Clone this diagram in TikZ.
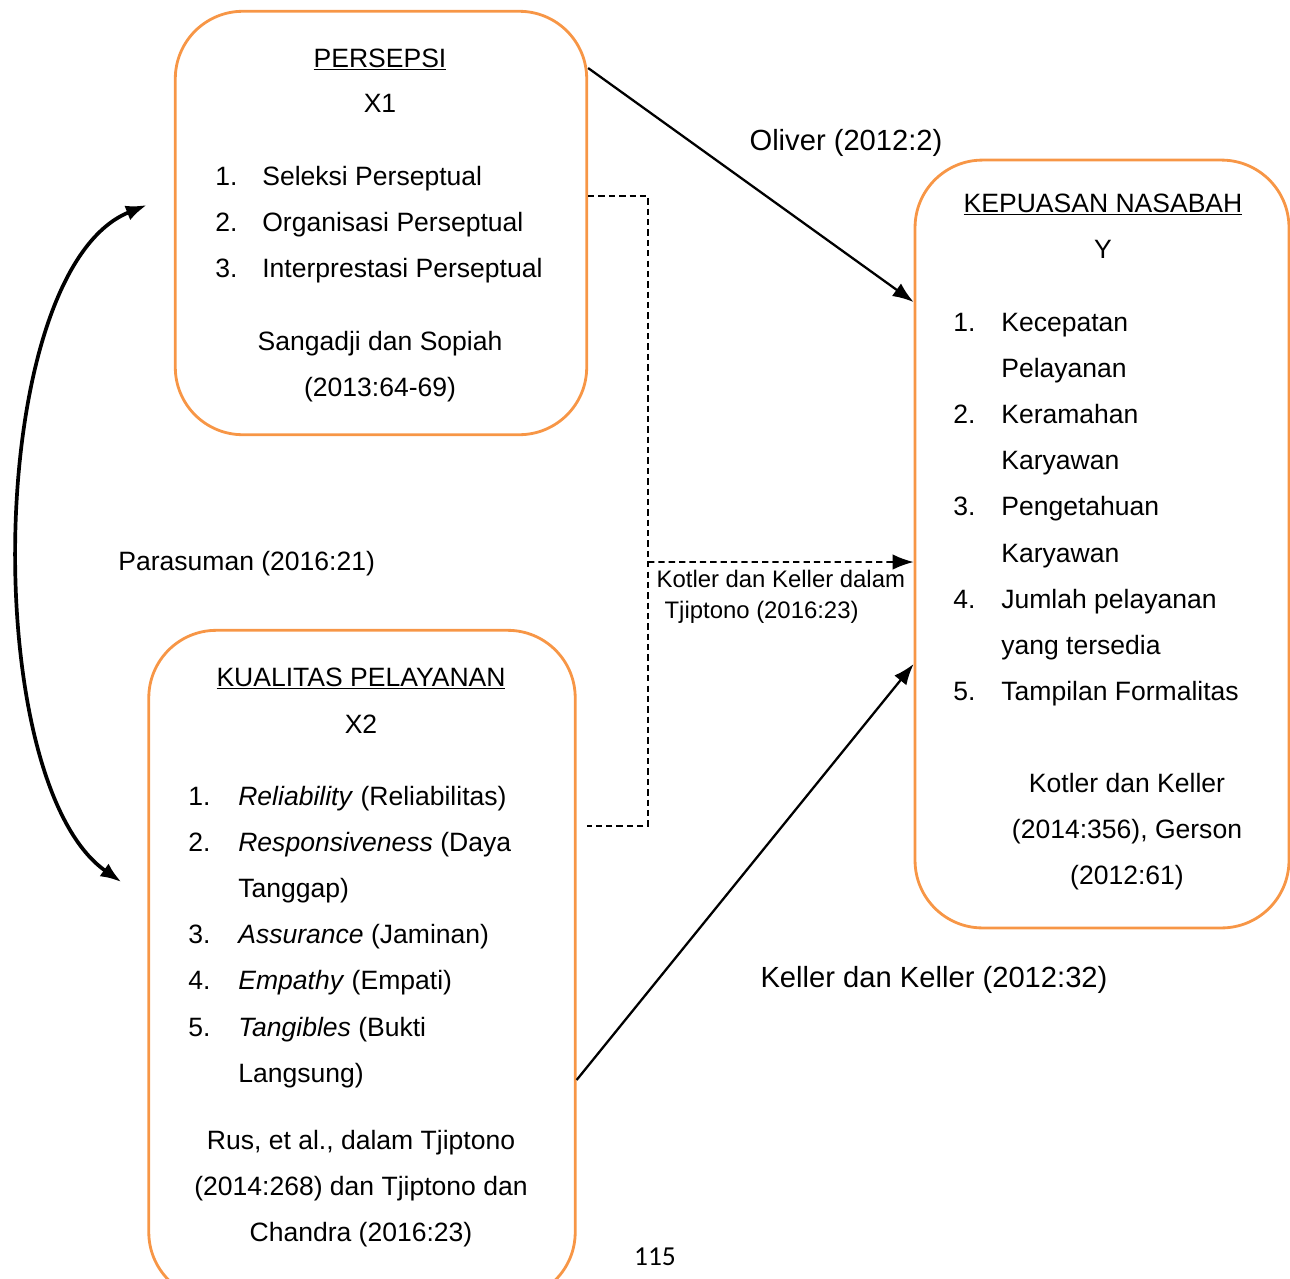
\documentclass[tikz,border=0pt]{standalone}
\usepackage{fontspec}
\setmainfont{Liberation Sans}
\newfontfamily\halfont{Carlito}
\usepackage{tikz}
\usetikzlibrary{
  arrows.meta,%
  calc,%
  positioning
}
\definecolor{oranye}{HTML}{F79646}
\tikzset{>={Latex[length=4.2mm,width=3.1mm]}}
\tikzset{kotak/.style={draw=oranye, line width=1.6pt, rounded corners=1.35cm, inner sep=0pt},
  teks/.style={font=\fontsize{15.1}{26.3}\selectfont, inner sep=0pt},
  besar/.style={font=\fontsize{16.6}{20}\selectfont, inner sep=0pt},
  kecil/.style={font=\fontsize{13.6}{17.6}\selectfont, inner sep=0pt},
  panah/.style={->, line width=1.3pt},
  putus/.style={line width=1.1pt, dash pattern=on 3.6pt off 2.3pt}}

\begin{document}
\begin{tikzpicture}[x=0.02cm, y=-0.02cm]
  \useasboundingbox (0,0) rectangle (1290,1278);
  \clip (0,0) rectangle (1290,1278);
  % kotak variabel
  \node[kotak, minimum width=8.23cm, minimum height=8.47cm] (persepsi) at (381,223) {};
  \node[kotak, minimum width=7.48cm, minimum height=15.36cm] (kepuasan) at (1102,544) {};
  \node[kotak, minimum width=8.53cm, minimum height=13.39cm] (kualitas) at (362,965) {};

  % X1
  \node[teks, anchor=base] (judulx1) at (380,67) {\underline{PERSEPSI}};
  \node[teks, anchor=base] (varx1) at (380,112) {X1};
  \node[teks, anchor=base west] (dafx1) at (215,185) {\begin{tabular}[t]{@{}p{0.94cm}@{}l@{}}
    1. & Seleksi Perseptual\\
    2. & Organisasi Perseptual\\
    3. & Interprestasi Perseptual
  \end{tabular}};
  \node[teks, anchor=base] (sumberx1) at (380,350) {\begin{tabular}[t]{@{}c@{}}
    Sangadji dan Sopiah\\ (2013:64-69)
  \end{tabular}};

  % Y
  \node[teks, anchor=base] (juduly) at (1103,212) {\underline{KEPUASAN NASABAH}};
  \node[teks, anchor=base] (vary) at (1103,258) {Y};
  \node[teks, anchor=base west] (dafy) at (953,331) {\begin{tabular}[t]{@{}p{0.96cm}@{}l@{}}
    1. & Kecepatan\\
       & Pelayanan\\
    2. & Keramahan\\
       & Karyawan\\
    3. & Pengetahuan\\
       & Karyawan\\
    4. & Jumlah pelayanan\\
       & yang tersedia\\
    5. & Tampilan Formalitas
  \end{tabular}};
  \node[teks, anchor=base] (sumbery) at (1127,792) {\begin{tabular}[t]{@{}c@{}}
    Kotler dan Keller\\ (2014:356), Gerson\\ (2012:61)
  \end{tabular}};

  % X2
  \node[teks, anchor=base] (judulx2) at (361,686) {\underline{KUALITAS PELAYANAN}};
  \node[teks, anchor=base] (varx2) at (361,733) {X2};
  \node[teks, anchor=base west] (dafx2) at (188,805) {\begin{tabular}[t]{@{}p{1cm}@{}l@{}}
    1. & \textit{Reliability} (Reliabilitas)\\
    2. & \textit{Responsiveness} (Daya\\
       & Tanggap)\\
    3. & \textit{Assurance} (Jaminan)\\
    4. & \textit{Empathy} (Empati)\\
    5. & \textit{Tangibles} (Bukti\\
       & Langsung)
  \end{tabular}};
  \node[teks, anchor=base] (sumberx2) at (361,1149) {\begin{tabular}[t]{@{}c@{}}
    Rus, et al., dalam Tjiptono\\ (2014:268) dan Tjiptono dan\\ Chandra (2016:23)
  \end{tabular}};

  % hubungan
  \draw[panah] ([yshift=3.1cm]persepsi.east) -- ([yshift=4.84cm]kepuasan.west);
  \node[besar, anchor=base] (oliver) at (846,150) {Oliver (2012:2)};
  \draw[panah] ([yshift=-2.3cm]kualitas.east) -- ([yshift=-2.4cm]kepuasan.west);
  \node[besar, anchor=base] (keller) at (934,987) {Keller dan Keller (2012:32)};

  \coordinate (pojok) at (648,562);
  \draw[putus] ([yshift=0.54cm]persepsi.east) -| (pojok)
    |- ([xshift=0.2cm, yshift=2.78cm]kualitas.east);
  \draw[putus, ->] (pojok) -- node[kecil, below, yshift=-0.14cm, align=left] (kotler)
    {Kotler dan Keller dalam\\ \hspace*{0.16cm}Tjiptono (2016:23)} ([yshift=-0.36cm]kepuasan.west);

  \coordinate (atas) at ([xshift=-0.54cm, yshift=0.36cm]persepsi.west);
  \coordinate (bawah) at ([xshift=-0.52cm, yshift=1.66cm]kualitas.west);
  \draw[<->, line width=2.1pt] (atas) to[out=202, in=145, looseness=0.66] (bawah);
  \node[teks, anchor=base west] (parasuman) at (118,570) {Parasuman (2016:21)};

  \node[font=\halfont\fontsize{15.6}{18}\selectfont, anchor=base, inner sep=0pt] (halaman) at (655,1265) {115};
\end{tikzpicture}
\end{document}
